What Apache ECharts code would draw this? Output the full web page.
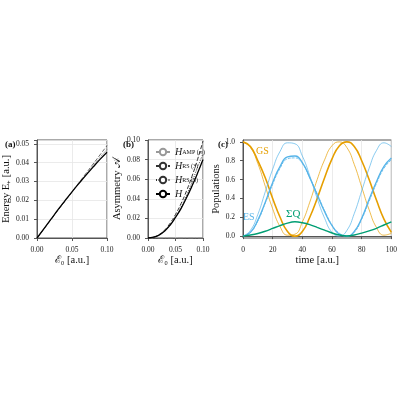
<!DOCTYPE html><html><head><meta charset="utf-8">
<script src="https://cdn.jsdelivr.net/npm/echarts@6/dist/echarts.min.js"></script>
<style>html,body{margin:0;background:#fff}#c{width:400px;height:400px}</style></head><body><div id="c"></div>
<script>
const fieldX = [0,0.01,0.02,0.03,0.04,0.05,0.06,0.07,0.08,0.09,0.1];
const energyH = [0,0.005,0.01,0.015,0.0198,0.0245,0.029,0.0334,0.0376,0.0417,0.0455];
const energyRS3 = [0,0.0049,0.0098,0.0147,0.0196,0.0245,0.0294,0.0343,0.0392,0.0441,0.049];
const energyRS5 = [0,0.005,0.0099,0.0148,0.0196,0.0244,0.0291,0.0338,0.0384,0.0428,0.047];
const asymAMP = [0,0,0,0,0,0,0,0,0,0,0];
const asymRS3 = [0,0.001,0.0035,0.008,0.015,0.024,0.035,0.048,0.063,0.08,0.099];
const asymRS5 = [0,0.0009,0.0032,0.0072,0.0135,0.0215,0.0315,0.0435,0.057,0.072,0.086];
const asymH = [0,0.0008,0.003,0.007,0.013,0.021,0.03,0.041,0.053,0.066,0.08];
const timeX = [0,5,10,15,20,25,30,35,40,45,50,55,60,65,70,75,80,85,90,95,100];
const gsThick = [1,0.95,0.80,0.62,0.40,0.20,0.05,0,0.05,0.20,0.40,0.62,0.82,0.96,1,0.95,0.80,0.60,0.38,0.18,0.04];
const gsThin = [1,0.94,0.77,0.53,0.29,0.10,0.01,0.02,0.15,0.36,0.60,0.81,0.96,1,0.94,0.76,0.52,0.28,0.09,0.01,0.03];
const esThin = [0,0.06,0.23,0.47,0.71,0.90,0.99,0.98,0.85,0.64,0.40,0.19,0.04,0,0.06,0.24,0.48,0.72,0.91,0.99,0.95];
const esThick = [0,0.04,0.17,0.36,0.57,0.74,0.84,0.85,0.78,0.62,0.44,0.26,0.11,0.02,0,0.05,0.19,0.39,0.58,0.74,0.83];
const esThick2 = [0,0.04,0.16,0.35,0.55,0.72,0.82,0.83,0.77,0.62,0.45,0.27,0.12,0.03,0,0.04,0.18,0.37,0.56,0.72,0.81];
const sumQ = [0,0.012,0.028,0.052,0.082,0.112,0.138,0.152,0.142,0.122,0.092,0.063,0.033,0.012,0.002,0.012,0.032,0.055,0.083,0.118,0.152];

const F='Liberation Serif', ORANGE='#e69f00', BLUE='#56b4e9', GREEN='#009e73';
const pair=(xs,ys)=>xs.map((x,i)=>[x,ys[i]]);
const grids=[{left:30,top:140,width:77,height:98},{left:148,top:140,width:55,height:98},{left:243,top:140,width:152,height:98}];
grids.forEach(g=>{g.show=true;g.borderColor='#555';g.borderWidth=1;});
const ax=(gi,min,max,iv,dec,name,gap)=>({gridIndex:gi,min,max,interval:iv,name,nameLocation:'middle',nameGap:gap,
 nameTextStyle:{fontFamily:F,fontSize:10.5,color:'#111'},
 axisLine:{show:true,lineStyle:{color:'#555'}},axisTick:{show:true,length:3,lineStyle:{color:'#555'}},
 axisLabel:{fontFamily:F,fontSize:7.5,color:'#222',formatter:v=>dec==null?String(v):v.toFixed(dec)},
 splitLine:{show:true,lineStyle:{color:'#e6e6e6',width:0.8}}});
const xA=[ax(0,0,0.1,0.05,2,'ℰ₀ [a.u.]',16),ax(1,0,0.1,0.05,2,'ℰ₀ [a.u.]',16),ax(2,0,100,20,null,'time [a.u.]',14)];
const yA=[ax(0,0,0.05,0.01,2,'Energy E₊ [a.u.]',23),ax(1,0,0.1,0.02,2,'Asymmetry 𝒜',24),ax(2,0,1,0.2,1,'Populations',20)];
yA[0].max=0.052;
yA[0].axisLabel.formatter=v=>v>0.0505?'':v.toFixed(2);
yA[2].min=-0.02;yA[2].max=1.02;yA[2].interval=undefined;
yA[2].axisLabel.formatter=v=>v.toFixed(1);
yA[2].axisLabel.customValues=[0,0.2,0.4,0.6,0.8,1];yA[2].axisTick.customValues=[0,0.2,0.4,0.6,0.8,1];
yA[2].splitLine.show=false;
const L=(name,gi,xs,ys,color,w,type)=>({name,type:'line',xAxisIndex:gi,yAxisIndex:gi,data:pair(xs,ys),showSymbol:false,smooth:true,
 lineStyle:{color,width:w,type},itemStyle:{color},z:3});
const series=[
 L('e3',0,fieldX,energyRS3,'#444',0.8,[4,2]),
 L('e5',0,fieldX,energyRS5,'#666',0.8,[1,1]),
 L('eH',0,fieldX,energyH,'#000',1.3,'solid'),
 L('AMP',1,fieldX,asymAMP,'#999',1,[5,2,1,2]),
 L('RS3',1,fieldX,asymRS3,'#333',1,[4,2]),
 L('RS5',1,fieldX,asymRS5,'#333',1,[1,1.5]),
 L('H',1,fieldX,asymH,'#000',1.3,'solid'),
 L('gs1',2,timeX,gsThin,ORANGE,0.7,'solid'),
 L('gs2',2,timeX,gsThick,ORANGE,1.6,'solid'),
 L('es1',2,timeX,esThin,BLUE,0.7,'solid'),
 L('es2',2,timeX,esThick,BLUE,1.3,'solid'),
 L('es3',2,timeX,esThick2,BLUE,0.8,[3,1]),
 L('q',2,timeX,sumQ,GREEN,1.4,'solid')
];
series.find(s=>s.name==='q').smooth=0.3;
const rich={i:{fontFamily:F,fontStyle:'italic',fontSize:10,color:'#111'},s:{fontFamily:F,fontSize:6,color:'#111'}};
const chart=echarts.init(document.getElementById('c'));
chart.setOption({animation:false,backgroundColor:'#fff',grid:grids,xAxis:xA,yAxis:yA,series,
 legend:{show:true,data:['AMP','RS3','RS5','H'],orient:'vertical',left:150,top:142,itemWidth:14,itemHeight:8,itemGap:4,
  formatter:n=>({AMP:'{i|H}{s|AMP (∞)}',RS3:'{i|H}{s|RS (3)}',RS5:'{i|H}{s|RS (5)}',H:'{i|H}'})[n],
  textStyle:{fontFamily:F,fontSize:10,rich},z:10},
 graphic:[
  {type:'text',left:5,top:140,style:{text:'(a)',font:'bold 9px '+F,fill:'#111'}},
  {type:'text',left:123,top:140,style:{text:'(b)',font:'bold 9px '+F,fill:'#111'}},
  {type:'text',left:218,top:140,style:{text:'(c)',font:'bold 9px '+F,fill:'#111'}},
  {type:'text',left:256,top:146,style:{text:'GS',font:'10px '+F,fill:ORANGE}},
  {type:'text',left:243,top:212,style:{text:'ES',font:'10px '+F,fill:BLUE}},
  {type:'text',left:286,top:209,style:{text:'ΣQ',font:'11px '+F,fill:GREEN}}
 ]});
</script></body></html>
